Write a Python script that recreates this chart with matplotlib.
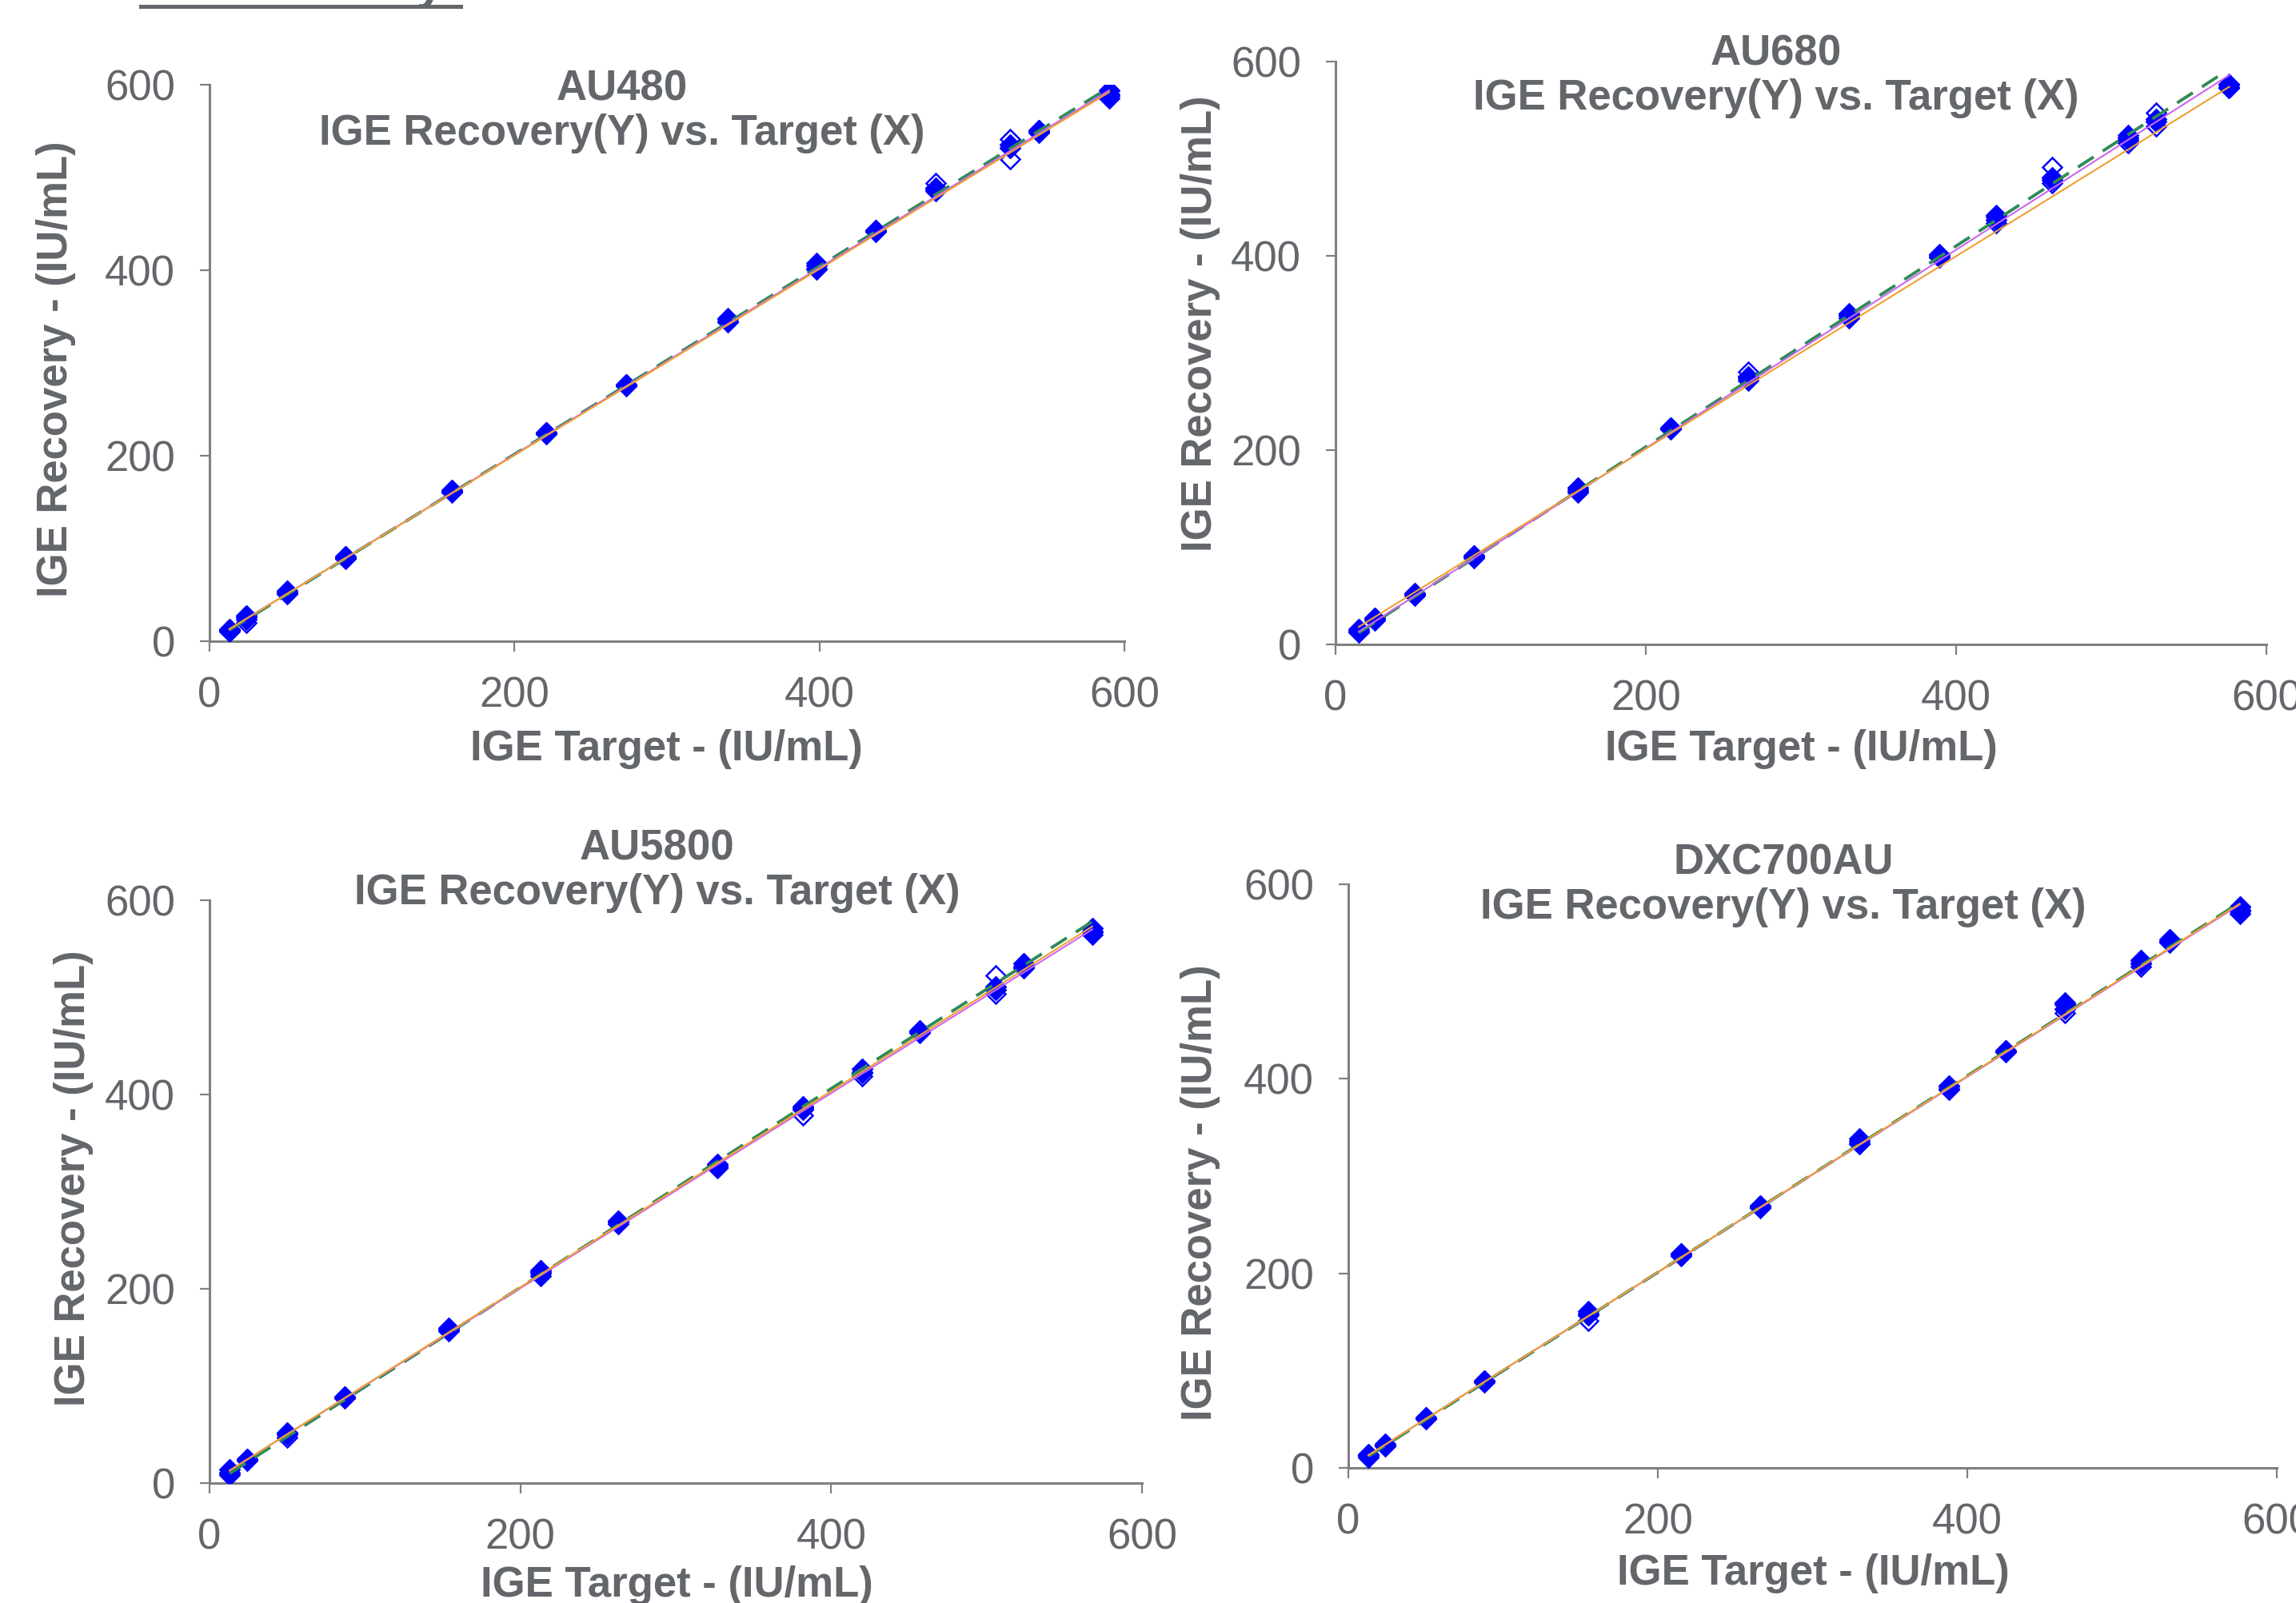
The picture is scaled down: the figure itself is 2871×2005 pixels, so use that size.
import numpy as np
import matplotlib
matplotlib.use("Agg")
import matplotlib.pyplot as plt
from matplotlib.lines import Line2D

plt.rcParams['font.family'] = ['Liberation Sans', 'DejaVu Sans']

W, H = 2871, 2005
GRAY = '#63666a'
SPINE = '#808080'

# %%
# data: target levels, filled / open replicate results
names = ['AU480', 'AU680', 'AU5800', 'DXC700AU']

targets_au480 = [13, 24, 51, 89, 159, 221, 273, 340, 398, 437, 476, 525, 544, 590]
filled_au480 = [[11, 13], [26, 28], [52, 54], [90, 91], [161, 163], [224, 225], [276, 277],
                [345, 347], [402, 405], [442, 443], [487, 489], [532, 535], [549, 551], [590, 594]]
open_au480 = [[10, 12], [20, 23], [51, 53], [89, 91], [160, 162], [223, 225], [275, 277],
              [344, 348], [401, 408], [441, 443], [485, 494], [520, 541], [548, 551], [585, 588]]

targets_au680 = [15, 25, 51, 89, 156, 216, 266, 331, 389, 426, 462, 511, 529, 576]
filled_au680 = [[13, 16], [26, 27], [51, 53], [90, 91], [159, 161], [222, 223], [274, 276],
                [338, 340], [399, 401], [437, 440], [478, 481], [519, 522], [538, 541], [573, 576]]
open_au680 = [[12, 14], [25, 27], [50, 52], [89, 91], [156, 158], [221, 223], [272, 281],
              [336, 341], [398, 402], [434, 442], [475, 491], [516, 524], [533, 547], [574, 577]]

targets_au5800 = [13, 24, 50, 87, 154, 213, 263, 327, 382, 420, 457, 506, 524, 568]
filled_au5800 = [[11, 14], [24, 25], [50, 52], [88, 89], [158, 160], [217, 219], [268, 270],
                 [325, 328], [386, 388], [423, 426], [464, 466], [508, 511], [532, 535], [568, 571]]
open_au5800 = [[8, 10], [23, 25], [47, 50], [87, 89], [156, 158], [213, 216], [267, 269],
               [324, 327], [379, 384], [419, 422], [463, 465], [504, 523], [530, 532], [565, 567]]

targets_dxc = [13, 24, 50, 88, 155, 215, 266, 330, 388, 425, 463, 512, 531, 576]
filled_dxc = [[12, 14], [23, 25], [51, 52], [89, 90], [157, 159], [219, 220], [268, 270],
              [334, 336], [390, 393], [428, 429], [472, 477], [519, 522], [541, 543], [574, 577]]
open_dxc = [[11, 13], [22, 24], [50, 52], [88, 90], [151, 161], [218, 220], [267, 269],
            [333, 339], [389, 392], [427, 429], [468, 478], [515, 519], [540, 542], [570, 572]]

# fitted lines: (x_start, x_end, y_start, y_end) for green dashed, violet, orange
lines_au480 = [(13, 590, 12, 597), (13, 590, 13, 594), (13, 590, 13, 592)]
lines_au680 = [(15, 572, 12, 588), (15, 576, 13, 586), (15, 576, 18, 574)]
lines_au5800 = [(13, 568, 10, 578), (13, 568, 13, 570), (13, 568, 13, 573)]
lines_dxc = [(13, 576, 12, 581), (13, 576, 13, 579), (13, 576, 13, 580)]

ticks = [0, 200, 400, 600]

panels = [
    (targets_au480, filled_au480, open_au480, lines_au480),
    (targets_au680, filled_au680, open_au680, lines_au680),
    (targets_au5800, filled_au5800, open_au5800, lines_au5800),
    (targets_dxc, filled_dxc, open_dxc, lines_dxc),
]

# %%
# layout in pixels: axes box (left, right, bottom, top), title centre, xlabel centre, ylabel centre
layout = [
    dict(box=(262, 1406, 802, 106), title=(778, 139), xl=(833, 937), yl=(70, 462)),
    dict(box=(1670, 2834, 806, 77), title=(2221, 95), xl=(2252, 937), yl=(1501, 405)),
    dict(box=(262, 1428, 1855, 1126), title=(822, 1089), xl=(846, 1983), yl=(92, 1474)),
    dict(box=(1686, 2847, 1836, 1106), title=(2230, 1107), xl=(2267, 1968), yl=(1501, 1492)),
]
line_styles = [dict(color='#2e8b57', lw=2.8, ls=(0, (6, 3.5))),
               dict(color='#cc66ee', lw=1.5, ls='-'),
               dict(color='#eea030', lw=1.5, ls='-')]


def fx(px):
    return px / W


def fy(py):
    return 1 - py / H


fig = plt.figure(figsize=(W / 100, H / 100), dpi=100)

for name, (tg, fil, opn, lns), lay in zip(names, panels, layout):
    l, r, b, t = lay['box']
    ax = fig.add_axes([fx(l), fy(b), fx(r) - fx(l), fy(t) - fy(b)])
    ax.set_xlim(0, 600)
    ax.set_ylim(0, 600)

    xo = np.repeat(tg, [len(v) for v in opn])
    yo = np.concatenate(opn)
    ax.plot(xo, yo, ls='none', marker='D', ms=12, mfc='white', mec='#0000ff', mew=1.8, zorder=3)
    xf = np.repeat(tg, [len(v) for v in fil])
    yf = np.concatenate(fil)
    ax.plot(xf, yf, ls='none', marker='D', ms=13, mfc='#0000ff', mec='#0000ff', mew=1, zorder=4)

    for (x0, x1, y0, y1), st in zip(lns, line_styles):
        ax.plot([x0, x1], [y0, y1], zorder=5, **st)

    for s in ['top', 'right']:
        ax.spines[s].set_visible(False)
    for s in ['left', 'bottom']:
        ax.spines[s].set_color(SPINE)
        ax.spines[s].set_linewidth(2.2)
        ax.spines[s].set_clip_on(False)
    ax.set_xticks(ticks)
    ax.set_yticks(ticks)
    ax.tick_params(direction='out', length=9, width=1.6, color=SPINE, labelsize=38,
                   labelcolor=GRAY, pad=22)
    for lab in ax.get_xticklabels() + ax.get_yticklabels():
        lab.set_clip_on(False)

    ax.set_xlabel('IGE Target - (IU/mL)', fontsize=38, fontweight='bold', color=GRAY, va='center')
    ax.set_ylabel('IGE Recovery - (IU/mL)', fontsize=38, fontweight='bold', color=GRAY, va='center')
    ax.xaxis.set_label_coords(fx(lay['xl'][0]), fy(lay['xl'][1]), transform=fig.transFigure)
    ax.yaxis.set_label_coords(fx(lay['yl'][0]), fy(lay['yl'][1]), transform=fig.transFigure)

    fig.text(fx(lay['title'][0]), fy(lay['title'][1]), name + '\nIGE Recovery(Y) vs. Target (X)',
             ha='center', va='center', fontsize=38, fontweight='bold', color=GRAY, linespacing=1.15)

# heading cut off at the top edge, only its underline and a descender show
fig.text(fx(556), fy(-2), 'Linearity', ha='right', va='baseline', fontsize=44,
         fontweight='bold', color=GRAY)
fig.add_artist(Line2D([fx(176), fx(576)], [fy(8), fy(8)], color=GRAY, lw=3.6,
                      transform=fig.transFigure))

fig.savefig('out.png', dpi=100)
